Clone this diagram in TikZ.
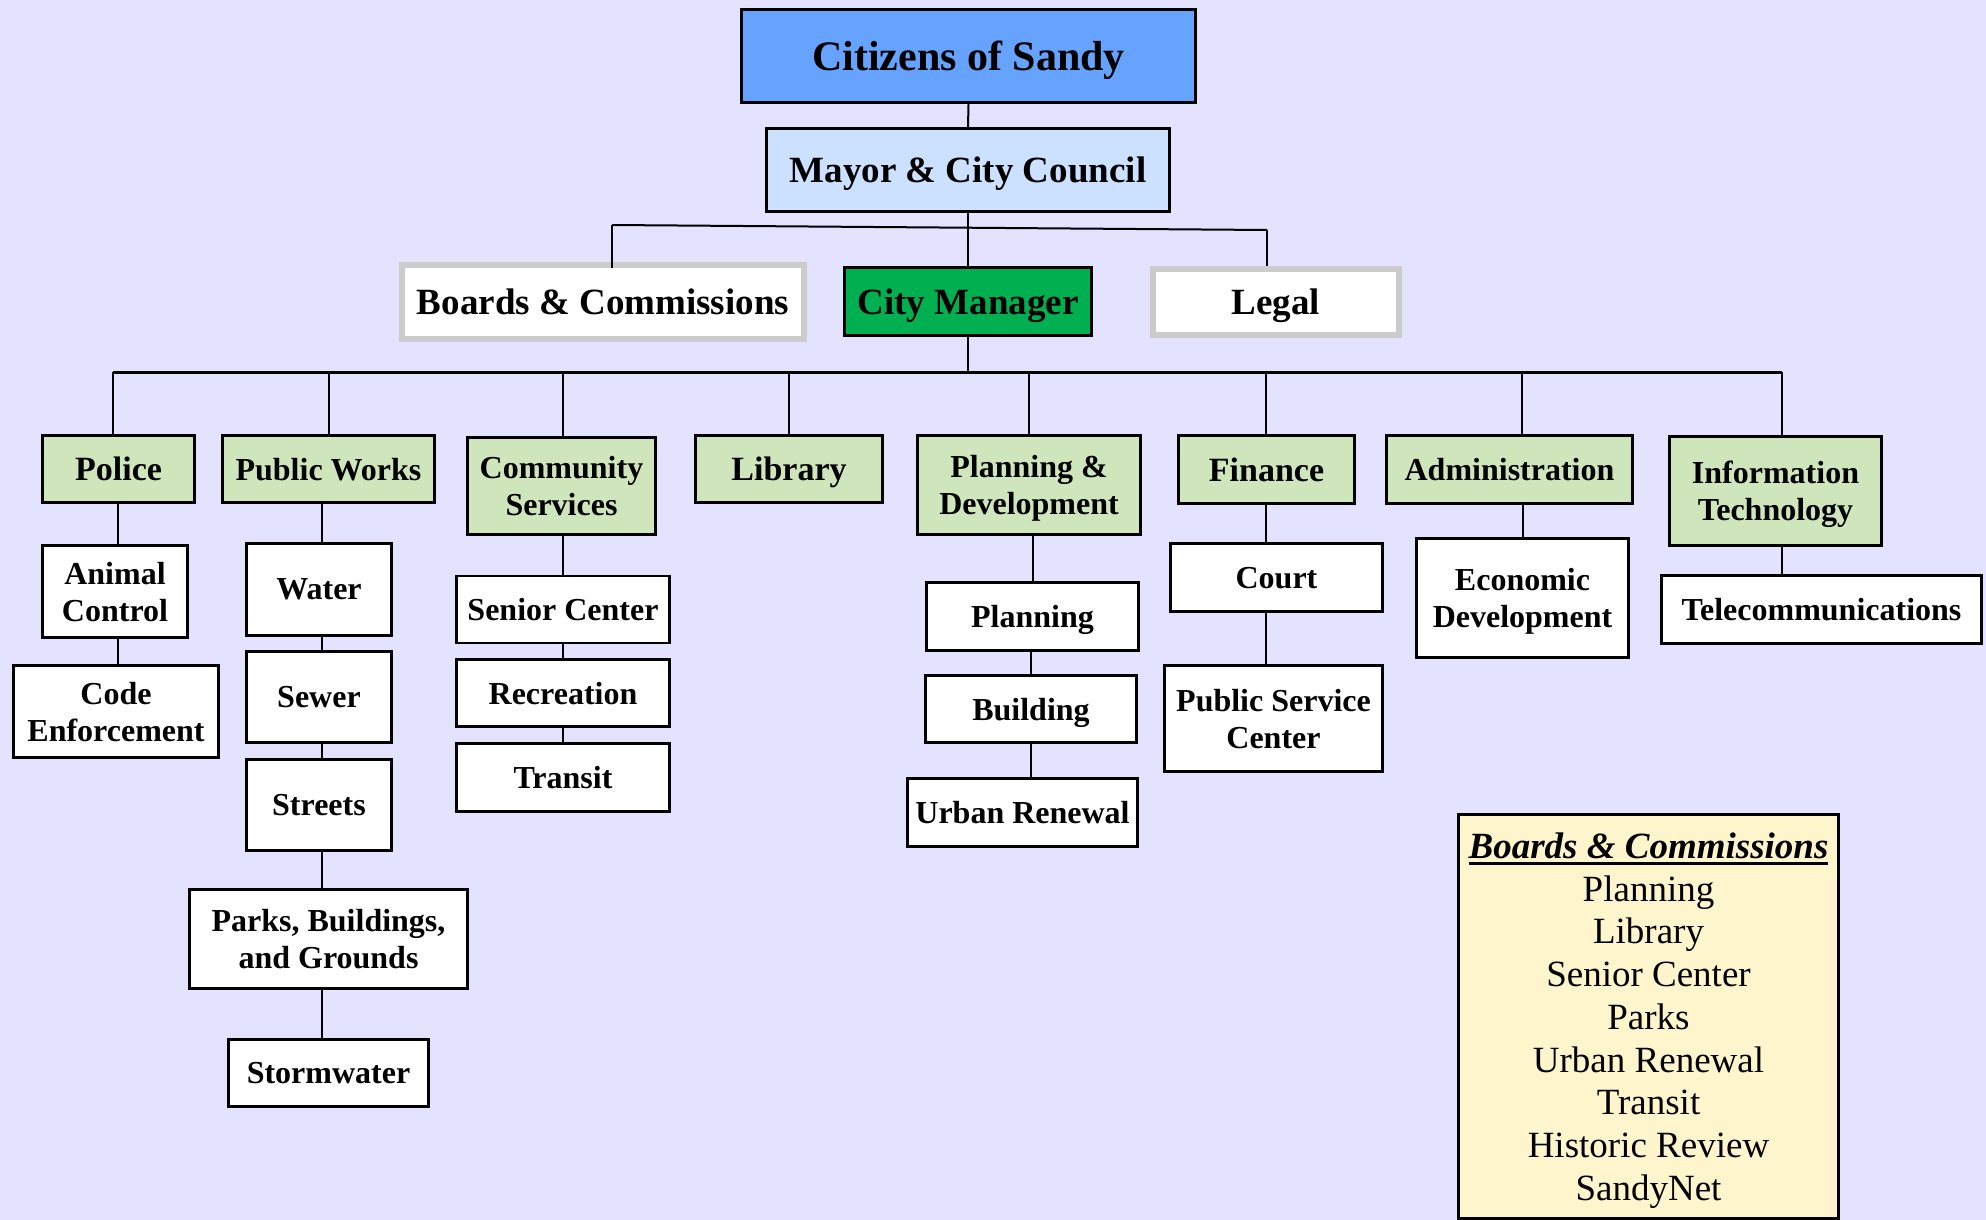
\documentclass[tikz,border=0pt]{standalone}
\usepackage{fontspec}
\setmainfont{Liberation Serif}
\definecolor{bgcol}{RGB}{227,227,255}
\definecolor{citizenblue}{RGB}{102,163,255}
\definecolor{mayorblue}{RGB}{204,224,255}
\definecolor{cmgreen}{RGB}{0,176,80}
\definecolor{deptgreen}{RGB}{207,230,188}
\definecolor{graybd}{RGB}{204,204,204}
\definecolor{legendyellow}{RGB}{255,245,204}
\newcommand{\ulbox}[1]{\setbox0\hbox{#1}\rlap{\rule[-6.5pt]{\wd0}{3pt}}\box0}
\begin{document}
\begin{tikzpicture}[x=1pt,y=-1pt,
  every node/.style={inner sep=0pt, align=center, text depth=0pt},
  box/.style={draw=black, line width=2.5pt, fill=white, font=\fontsize{32}{37}\selectfont\bfseries},
  dept/.style={box, fill=deptgreen},
  bigdept/.style={dept, font=\fontsize{34}{39}\selectfont\bfseries},
  graybox/.style={draw=graybd, line width=6pt, fill=white, font=\fontsize{37}{42}\selectfont\bfseries},
  conn/.style={line width=2pt},
  bus/.style={line width=3pt},
  legendbox/.style={draw=black, line width=2.5pt, fill=legendyellow, font=\fontsize{37}{42.75}\selectfont}]
\useasboundingbox (0,0) rectangle (1986,1220);
\fill[bgcol] (0,0) rectangle (1986,1220);

% top levels
\node[box, fill=citizenblue, line width=3.5pt, minimum width=454, minimum height=93, font=\fontsize{42}{48}\selectfont\bfseries] (citizens) at (968.5,56) {Citizens of Sandy};
\node[box, fill=mayorblue, minimum width=403, minimum height=83, font=\fontsize{37}{42}\selectfont\bfseries] (mayor) at (968,170) {Mayor \& City Council};
\node[graybox, minimum width=402, minimum height=74] (boards) at (603,302) {Boards \& Commissions};
\node[box, fill=cmgreen, line width=3pt, minimum width=247, minimum height=68, font=\fontsize{37}{42}\selectfont\bfseries] (cm) at (968,301.5) {City Manager};
\node[graybox, minimum width=246, minimum height=66] (legal) at (1276,302) {Legal};

\coordinate (ubL) at (612,225);
\coordinate (ubR) at (1267,230);
\draw[conn] (citizens.south) -- (mayor.north);
\draw[conn] (mayor.south) -- (cm.north);
\draw[conn] (ubL) -- (ubR);
\draw[conn] (ubL) -- ([yshift=-6pt]ubL |- boards.north);
\draw[conn] (ubR) -- (ubR |- legal.north);

% departments
\node[bigdept, minimum width=152, minimum height=67] (police) at (118.5,469) {Police};
\node[dept, minimum width=212, minimum height=67] (pw) at (328.5,469) {Public Works};
\node[dept, minimum width=188, minimum height=97] (cs) at (561.5,486) {Community\\Services};
\node[bigdept, minimum width=187, minimum height=67] (library) at (789,469) {Library};
\node[dept, minimum width=223, minimum height=99] (pd) at (1029,485) {Planning \&\\Development};
\node[bigdept, minimum width=176, minimum height=68] (finance) at (1266.5,469.5) {Finance};
\node[dept, minimum width=246, minimum height=68] (admin) at (1509.5,469.5) {Administration};
\node[dept, minimum width=212, minimum height=109] (it) at (1775.5,491) {Information\\Technology};

\coordinate (bL) at (113,372);
\coordinate (bR) at (1782,372);
\coordinate (dPol) at (113,372);
\coordinate (dPW) at (328.5,372);
\coordinate (dCS) at (562.5,372);
\coordinate (dLib) at (789,372);
\coordinate (dPD) at (1029,372);
\coordinate (dFin) at (1266,372);
\coordinate (dAdm) at (1522,372);
\coordinate (dIT) at (1782,372);
\draw[conn] (cm.south) -- (cm.south |- bL);
\draw[bus] (bL) -- (bR);
\foreach \d/\n in {dPol/police,dPW/pw,dCS/cs,dLib/library,dPD/pd,dFin/finance,dAdm/admin,dIT/it}
  \draw[conn] (\d) -- (\d |- \n.north);

% sub units
\node[box, minimum width=145, minimum height=92] (animal) at (115,591.5) {Animal\\Control};
\node[box, minimum width=205, minimum height=92] (code) at (116,711.5) {Code\\Enforcement};

\node[box, minimum width=145, minimum height=92] (water) at (319,589.5) {Water};
\node[box, minimum width=145, minimum height=91] (sewer) at (319,697) {Sewer};
\node[box, minimum width=145, minimum height=91] (streets) at (319,805) {Streets};
\node[box, minimum width=278, minimum height=99] (parks) at (328.5,939) {Parks, Buildings,\\and Grounds};
\node[box, minimum width=200, minimum height=67] (storm) at (328.5,1073) {Stormwater};

\node[box, minimum width=213, minimum height=67] (senior) at (563,609.5) {Senior Center};
\node[box, minimum width=213, minimum height=67] (recreation) at (563,693) {Recreation};
\node[box, minimum width=213, minimum height=68] (transit) at (563,777.5) {Transit};

\node[box, minimum width=212, minimum height=68] (planning) at (1032.5,616.5) {Planning};
\node[box, minimum width=211, minimum height=67] (building) at (1031,709) {Building};
\node[box, minimum width=230, minimum height=68] (urban) at (1022.5,812.5) {Urban Renewal};

\node[box, minimum width=212, minimum height=68] (court) at (1276.5,577.5) {Court};
\node[box, minimum width=218, minimum height=106] (psc) at (1273.5,718.5) {Public Service\\Center};

\node[box, minimum width=212, minimum height=119] (econ) at (1522.5,598) {Economic\\Development};

\node[box, minimum width=320, minimum height=68] (telecom) at (1821.5,609.5) {Telecommunications};

\coordinate (xPol) at (118,0);
\coordinate (xPW) at (322,0);
\draw[conn] (police.south -| xPol) -- (animal.north -| xPol);
\draw[conn] (animal.south -| xPol) -- (code.north -| xPol);
\draw[conn] (pw.south -| xPW) -- (water.north -| xPW);
\draw[conn] (water.south -| xPW) -- (sewer.north -| xPW);
\draw[conn] (sewer.south -| xPW) -- (streets.north -| xPW);
\draw[conn] (streets.south -| xPW) -- (parks.north -| xPW);
\draw[conn] (parks.south -| xPW) -- (storm.north -| xPW);
\draw[conn] (cs.south -| dCS) -- (senior.north -| dCS);
\draw[conn] (senior.south -| dCS) -- (recreation.north -| dCS);
\draw[conn] (recreation.south -| dCS) -- (transit.north -| dCS);
\draw[conn] (pd.south -| planning.north) -- (planning.north);
\draw[conn] (planning.south -| building.north) -- (building.north);
\draw[conn] (building.south) -- (building.south |- urban.north);
\draw[conn] (finance.south -| dFin) -- (court.north -| dFin);
\draw[conn] (court.south -| dFin) -- (psc.north -| dFin);
\draw[conn] (admin.south -| econ.north) -- (econ.north);
\draw[conn] (it.south -| dIT) -- (telecom.north -| dIT);

% legend
\node[legendbox, minimum width=380, minimum height=404] (legend) at (1648.5,1016.5)
  {\ulbox{\bfseries\itshape Boards \& Commissions}\\Planning\\Library\\Senior Center\\Parks\\Urban Renewal\\Transit\\Historic Review\\SandyNet};
\end{tikzpicture}
\end{document}
